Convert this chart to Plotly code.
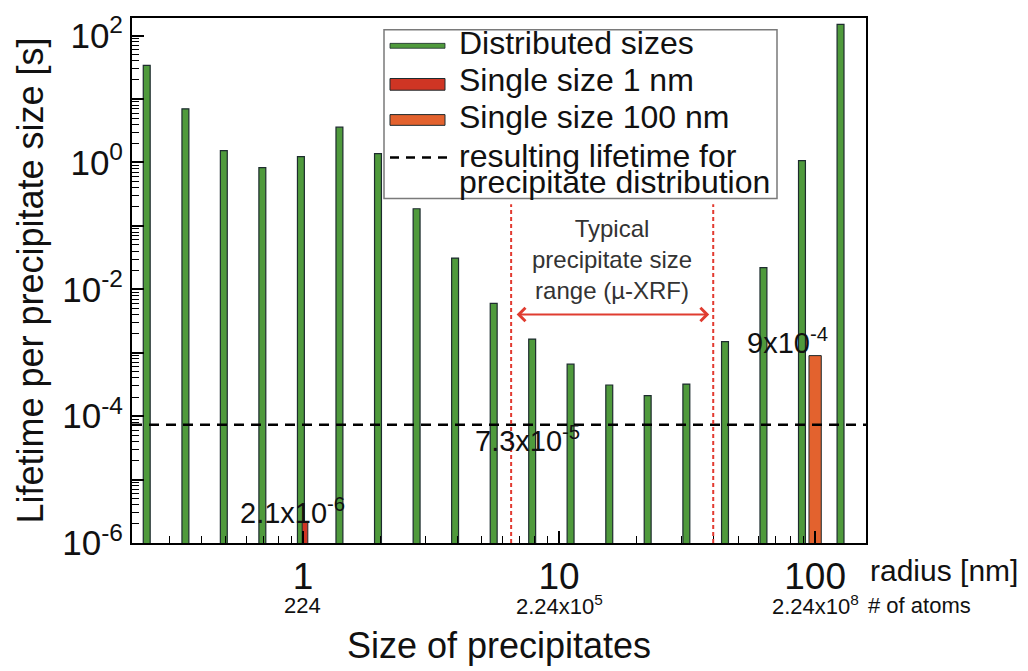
import numpy as np
import plotly.graph_objects as go

# Precipitate radius classes [nm] (sqrt(2) steps) and lifetime per class [s]
radius_nm = [0.25, 0.354, 0.5, 0.707, 1.0, 1.414, 2.0, 2.83, 4.0, 5.66,
             8.0, 11.3, 16.0, 22.6, 32.0, 45.3, 64.0, 90.5, 128.0]
lifetime_dist = [34, 7.0, 1.53, 0.83, 1.23, 3.6, 1.38, 0.186, 0.031, 6.0e-3,
                 1.64e-3, 6.6e-4, 3.1e-4, 2.1e-4, 3.2e-4, 1.5e-3, 0.022, 1.07, 150]

single_1nm_radius = [1.0]
single_1nm_lifetime = [2.1e-6]
single_100nm_radius = [100.0]
single_100nm_lifetime = [9e-4]

resulting_lifetime = 7.3e-5
xrf_range_nm = [6.5, 40.0]

radius_ticks = [1, 10, 100]
radius_ticktext = ["1", "10", "100"]
atoms_ticktext = ["224", "2.24x10<sup>5</sup>", "2.24x10<sup>8</sup>"]

y_major_exp = list(range(-6, 3))

FONT = "Liberation Sans, Arial, Helvetica, sans-serif"
GREEN = "#4f9a3c"
RED = "#cf3524"
ORANGE = "#e3622e"
EDGE = "#1d2b2e"

X_RANGE = [np.log10(0.215), np.log10(158)]
Y_RANGE = [-6, 2.277]


def log_bar_geometry(r, width_dec, shift_dec):
    """Width/offset (in data units) giving a constant-width bar on a log axis."""
    r = np.asarray(r, dtype=float)
    lo = r * 10 ** (shift_dec - width_dec / 2)
    hi = r * 10 ** (shift_dec + width_dec / 2)
    return (hi - lo).tolist(), (lo - r).tolist()


gw, go_ = log_bar_geometry(radius_nm, 0.027, -0.008)
rw, ro = log_bar_geometry(single_1nm_radius, 0.022, 0.008)
ow, oo = log_bar_geometry(single_100nm_radius, 0.048, 0.0)

fig = go.Figure()
fig.add_bar(x=radius_nm, y=lifetime_dist, width=gw, offset=go_,
            marker=dict(color=GREEN, line=dict(color=EDGE, width=1.2)),
            name="Distributed sizes")
fig.add_bar(x=single_1nm_radius, y=single_1nm_lifetime, width=rw, offset=ro,
            marker=dict(color=RED, line=dict(color=EDGE, width=1)),
            name="Single size 1 nm")
fig.add_bar(x=single_100nm_radius, y=single_100nm_lifetime, width=ow, offset=oo,
            marker=dict(color=ORANGE, line=dict(color=EDGE, width=1)),
            name="Single size 100 nm")

shapes = []
# resulting lifetime for the whole distribution
shapes.append(dict(type="line", xref="x domain", x0=0, x1=1, yref="y",
                   y0=resulting_lifetime, y1=resulting_lifetime,
                   line=dict(color="black", width=2.5, dash="10px,7px"), layer="above"))
# typical size range (dotted red verticals)
for xv in xrf_range_nm:
    shapes.append(dict(type="line", xref="x", x0=xv, x1=xv, yref="y",
                       y0=1e-6, y1=0.22,
                       line=dict(color="#e23a30", width=2, dash="4px,3px"), layer="above"))

# legend box (paper coordinates of the plot area)
W, H = 734.0, 538.0
def px(xp):
    return (xp - 132) / W
def py(yp):
    return (550 - yp) / H

shapes.append(dict(type="rect", xref="paper", yref="paper",
                   x0=px(384), x1=px(777), y0=py(197), y1=py(24),
                   fillcolor="white", line=dict(color="#7a7a7a", width=1.5), layer="above"))
shapes.append(dict(type="rect", xref="paper", yref="paper",
                   x0=px(390), x1=px(445), y0=py(43), y1=py(38),
                   fillcolor=GREEN, line=dict(color=EDGE, width=0.8), layer="above"))
shapes.append(dict(type="rect", xref="paper", yref="paper",
                   x0=px(390), x1=px(445), y0=py(86), y1=py(74),
                   fillcolor=RED, line=dict(color=EDGE, width=1), layer="above"))
shapes.append(dict(type="rect", xref="paper", yref="paper",
                   x0=px(390), x1=px(445), y0=py(122), y1=py(111),
                   fillcolor=ORANGE, line=dict(color=EDGE, width=1), layer="above"))
shapes.append(dict(type="line", xref="paper", yref="paper",
                   x0=px(390), x1=px(447), y0=py(155), y1=py(155),
                   line=dict(color="black", width=2.5, dash="9px,7px"), layer="above"))

ann = []
legend_rows = [("Distributed sizes", 38), ("Single size 1 nm", 76),
               ("Single size 100 nm", 113), ("resulting lifetime for", 153),
               ("precipitate distribution", 180)]
for txt, yp in legend_rows:
    ann.append(dict(text=txt, xref="paper", yref="paper", x=px(457), y=py(yp),
                    xanchor="left", yanchor="middle", showarrow=False,
                    font=dict(size=32, color="#111")))

# value labels
ann.append(dict(text="2.1x10<sup>-6</sup>", xref="x", yref="y",
                x=np.log10(single_1nm_radius[0]), y=np.log10(single_1nm_lifetime[0]),
                xanchor="center", yanchor="bottom", xshift=-10, yshift=-8,
                showarrow=False, font=dict(size=29, color="#111")))
ann.append(dict(text="9x10<sup>-4</sup>", xref="x", yref="y",
                x=np.log10(single_100nm_radius[0]), y=np.log10(single_100nm_lifetime[0]),
                xanchor="center", yanchor="bottom", xshift=-28, yshift=-5,
                showarrow=False, font=dict(size=29, color="#111")))
ann.append(dict(text="7.3x10<sup>-5</sup>", xref="x", yref="y",
                x=np.log10(7.5), y=np.log10(resulting_lifetime),
                xanchor="center", yanchor="middle", yshift=-14,
                showarrow=False, font=dict(size=29, color="#111")))

# size-range annotation
mid = np.sqrt(xrf_range_nm[0] * xrf_range_nm[1])
ann.append(dict(text="Typical<br>precipitate size<br>range (\u00b5-XRF)", xref="x", yref="y",
                x=np.log10(mid), y=np.log10(0.03), xanchor="center", yanchor="middle",
                showarrow=False, font=dict(size=24, color="#333")))
ann.append(dict(text="", xref="x", yref="y", axref="x", ayref="y",
                x=np.log10(xrf_range_nm[1]), y=np.log10(4e-3),
                ax=np.log10(xrf_range_nm[0]), ay=np.log10(4e-3),
                showarrow=True, arrowside="end+start", arrowhead=4, startarrowhead=4,
                arrowsize=1.3, startarrowsize=1.3, arrowwidth=2, arrowcolor="#e03c30",
                standoff=4, startstandoff=4))

# number-of-atoms labels beneath the radius ticks
for rv, lab in zip(radius_ticks, atoms_ticktext):
    ann.append(dict(text=lab, xref="x", yref="paper", x=np.log10(rv), y=py(614),
                    xanchor="center", yanchor="middle", showarrow=False,
                    font=dict(size=22, color="#111")))
ann.append(dict(text="radius [nm]", xref="paper", yref="paper", x=px(868), y=py(578),
                xanchor="left", yanchor="middle", showarrow=False,
                font=dict(size=30, color="#111")))
ann.append(dict(text="# of atoms", xref="paper", yref="paper", x=px(866), y=py(614),
                xanchor="left", yanchor="middle", showarrow=False,
                font=dict(size=22, color="#111")))

x_minor = [m * 10.0 ** e for e in range(-1, 3) for m in range(2, 10)
           if X_RANGE[0] < np.log10(m * 10.0 ** e) < X_RANGE[1]]
y_minor = [m * 10.0 ** e for e in range(-6, 3) for m in range(2, 10)
           if np.log10(m * 10.0 ** e) < Y_RANGE[1]]
y_major = [10.0 ** e for e in y_major_exp]

tick_common = dict(ticks="inside", ticklen=12, tickwidth=1.6, tickcolor="black",
                   showgrid=False, zeroline=False)
x_minor_ticks = dict(ticks="inside", ticklen=7, tickwidth=1.4, tickcolor="black",
                     tickvals=x_minor, showgrid=False)
y_minor_ticks = dict(ticks="inside", ticklen=7, tickwidth=1.4, tickcolor="black",
                     tickvals=y_minor, showgrid=False)

fig.update_layout(
    width=1028, height=671,
    margin=dict(l=132, r=162, t=12, b=121),
    paper_bgcolor="white", plot_bgcolor="white",
    barmode="overlay", showlegend=False,
    font=dict(family=FONT, color="#111"),
    shapes=shapes, annotations=ann,
    xaxis=dict(type="log", range=X_RANGE, showline=True, linecolor="black",
               linewidth=2, mirror=True, **tick_common,
               tickvals=radius_ticks, ticktext=radius_ticktext,
               tickfont=dict(size=37, color="#111"), minor=x_minor_ticks,
               title=dict(text="Size of precipitates", font=dict(size=36, color="#111"),
                          standoff=36)),
    yaxis=dict(type="log", range=Y_RANGE, showline=True, linecolor="black",
               linewidth=2, mirror=True, **tick_common,
               tickvals=y_major,
               ticktext=[("10<sup>%d</sup>" % e) if e % 2 == 0 else "" for e in y_major_exp],
               tickfont=dict(size=35, color="#111"), minor=y_minor_ticks,
               title=dict(text="Lifetime per precipitate size [s]",
                          font=dict(size=36, color="#111"), standoff=8)),
    # tick marks on the top and right frame edges
    xaxis2=dict(type="log", range=X_RANGE, overlaying="x", side="top", anchor="y",
                showline=False, showticklabels=False, **tick_common,
                tickvals=radius_ticks, minor=x_minor_ticks),
    yaxis2=dict(type="log", range=Y_RANGE, overlaying="y", side="right", anchor="x",
                showline=False, showticklabels=False, **tick_common,
                tickvals=y_major, minor=y_minor_ticks),
)

fig.write_html("out.html")
